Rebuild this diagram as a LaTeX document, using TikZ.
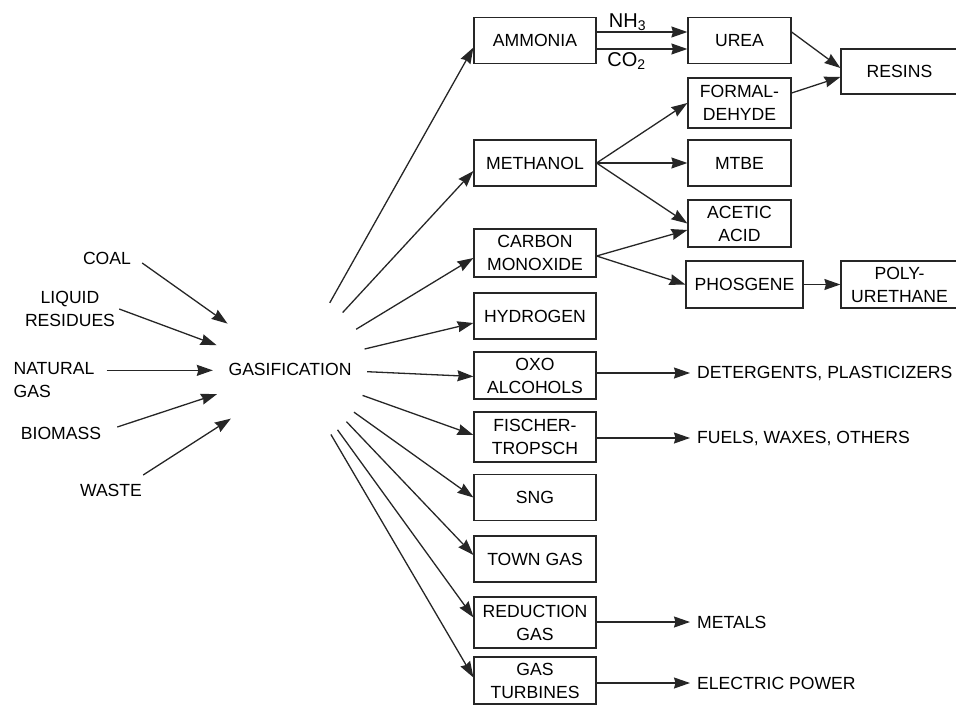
\documentclass[tikz,border=0pt]{standalone}
\usepackage{fontspec}
\setmainfont{Liberation Sans}
\usetikzlibrary{arrows.meta}

\begin{document}
\begin{tikzpicture}[x=1pt,y=-1pt,font=\fontsize{17.6}{23}\selectfont,
  box/.style={draw=black!85,line width=1.2pt,minimum height=46pt,align=center,inner sep=2pt},
  wide/.style={box,minimum width=122pt},
  mid/.style={box,minimum width=103pt},
  lbl/.style={align=center,inner sep=0pt},
  gaslbl/.style={lbl,font=\fontsize{20}{24}\selectfont},
  prod/.style={anchor=west,inner xsep=7pt,inner ysep=0pt},
  arr/.style={draw=black!85,line width=1.3pt,-{Stealth[length=16pt,width=11pt,inset=1.5pt]}}]

\useasboundingbox (0,0) rectangle (956,706);

\node[circle,minimum size=154pt,inner sep=0pt] (gas) at (290,369) {GASIFICATION};

% feedstocks
\node[lbl] (coal) at (107,258) {COAL};
\node[lbl] (liquid) at (70,309) {LIQUID\\RESIDUES};
\node[lbl,align=left] (natural) at (54,380) {NATURAL\\GAS};
\node[lbl] (biomass) at (61,433) {BIOMASS};
\node[lbl] (waste) at (111,490) {WASTE};

\draw[arr] ([shift={(11,5)}]coal.east) -- (gas.144);
\draw[arr] ([shift={(4,0)}]liquid.east) -- (gas.162);
\draw[arr] ([xshift=12pt]natural.east |- gas.181) -- (gas.181);
\draw[arr] ([shift={(16,-6)}]biomass.east) -- (gas.199);
\draw[arr] ([shift={(1,-15)}]waste.east) -- (gas.220);

% first products
\node[wide] (ammonia) at (535,40.5) {AMMONIA};
\node[wide] (methanol) at (535,163) {METHANOL};
\node[wide,minimum height=48pt] (carbon) at (535,253) {CARBON\\MONOXIDE};
\node[wide] (hydrogen) at (535,316) {HYDROGEN};
\node[wide,minimum height=47pt] (oxo) at (535,375.5) {OXO\\ALCOHOLS};
\node[wide,minimum height=50pt] (fischer) at (535,437) {FISCHER-\\TROPSCH};
\node[wide] (sng) at (535,497.5) {SNG};
\node[wide] (town) at (535,559) {TOWN GAS};
\node[wide,minimum height=51pt] (reduction) at (535,622.5) {REDUCTION\\GAS};
\node[wide,minimum height=47pt] (turbines) at (535,680.5) {GAS\\TURBINES};

\foreach \ang/\dst/\dy in {59/ammonia/7,47/methanol/8,31.5/carbon/5,15/hydrogen/7,
    -2/oxo/1,-20/fischer/-2,-34.5/sng/0,-43/town/-4,-52/reduction/-5,-58/turbines/-3}
  \draw[arr] (gas.\ang) -- ([shift={(0,\dy)}]\dst.west);

% second products
\node[mid] (urea) at (739.5,40.5) {UREA};
\node[mid,minimum height=50pt] (formal) at (739.5,103) {FORMAL-\\DEHYDE};
\node[mid] (mtbe) at (739.5,163) {MTBE};
\node[mid,minimum height=47pt] (acetic) at (739.5,223.5) {ACETIC\\ACID};
\node[box,minimum width=117pt,minimum height=47pt] (phosgene) at (744.5,284.5) {PHOSGENE};
\node[box,minimum width=117pt,minimum height=45pt] (resins) at (899.5,71.5) {RESINS};
\node[box,minimum width=117pt,minimum height=47pt] (poly) at (899.5,284.5) {POLY-\\URETHANE};

\draw[arr] ([shift={(0,-8.5)}]ammonia.east) -- node[gaslbl,pos=.34,above=1pt] {NH\textsubscript{3}} ([shift={(0,-8.5)}]urea.west);
\draw[arr] ([shift={(0,8.5)}]ammonia.east) -- node[gaslbl,pos=.33,below=3pt] {CO\textsubscript{2}} ([shift={(0,8.5)}]urea.west);
\draw[arr] ([shift={(0,-8.5)}]urea.east) -- ([shift={(0,-3.5)}]resins.west);
\draw[arr] ([shift={(0,-10)}]formal.east) -- ([shift={(0,5.5)}]resins.west);
\draw[arr] (methanol.east) -- (formal.west);
\draw[arr] (methanol.east) -- (mtbe.west);
\draw[arr] (methanol.east) -- (acetic.west);
\draw[arr] ([shift={(0,3)}]carbon.east) -- ([shift={(0,6.5)}]acetic.west);
\draw[arr] ([shift={(0,3)}]carbon.east) -- (phosgene.west);
\draw[arr] (phosgene) -- (poly);

% end uses
\node[prod] (deterg) at (690,373) {DETERGENTS, PLASTICIZERS};
\node[prod] (fuels) at (690,438) {FUELS, WAXES, OTHERS};
\node[prod] (metals) at (690,622) {METALS};
\node[prod] (power) at (690,683) {ELECTRIC POWER};

\draw[arr] (oxo.east |- deterg.west) -- (deterg.west);
\draw[arr] (fischer.east |- fuels.west) -- (fuels.west);
\draw[arr] (reduction.east |- metals.west) -- (metals.west);
\draw[arr] (turbines.east |- power.west) -- (power.west);

\end{tikzpicture}
\end{document}
